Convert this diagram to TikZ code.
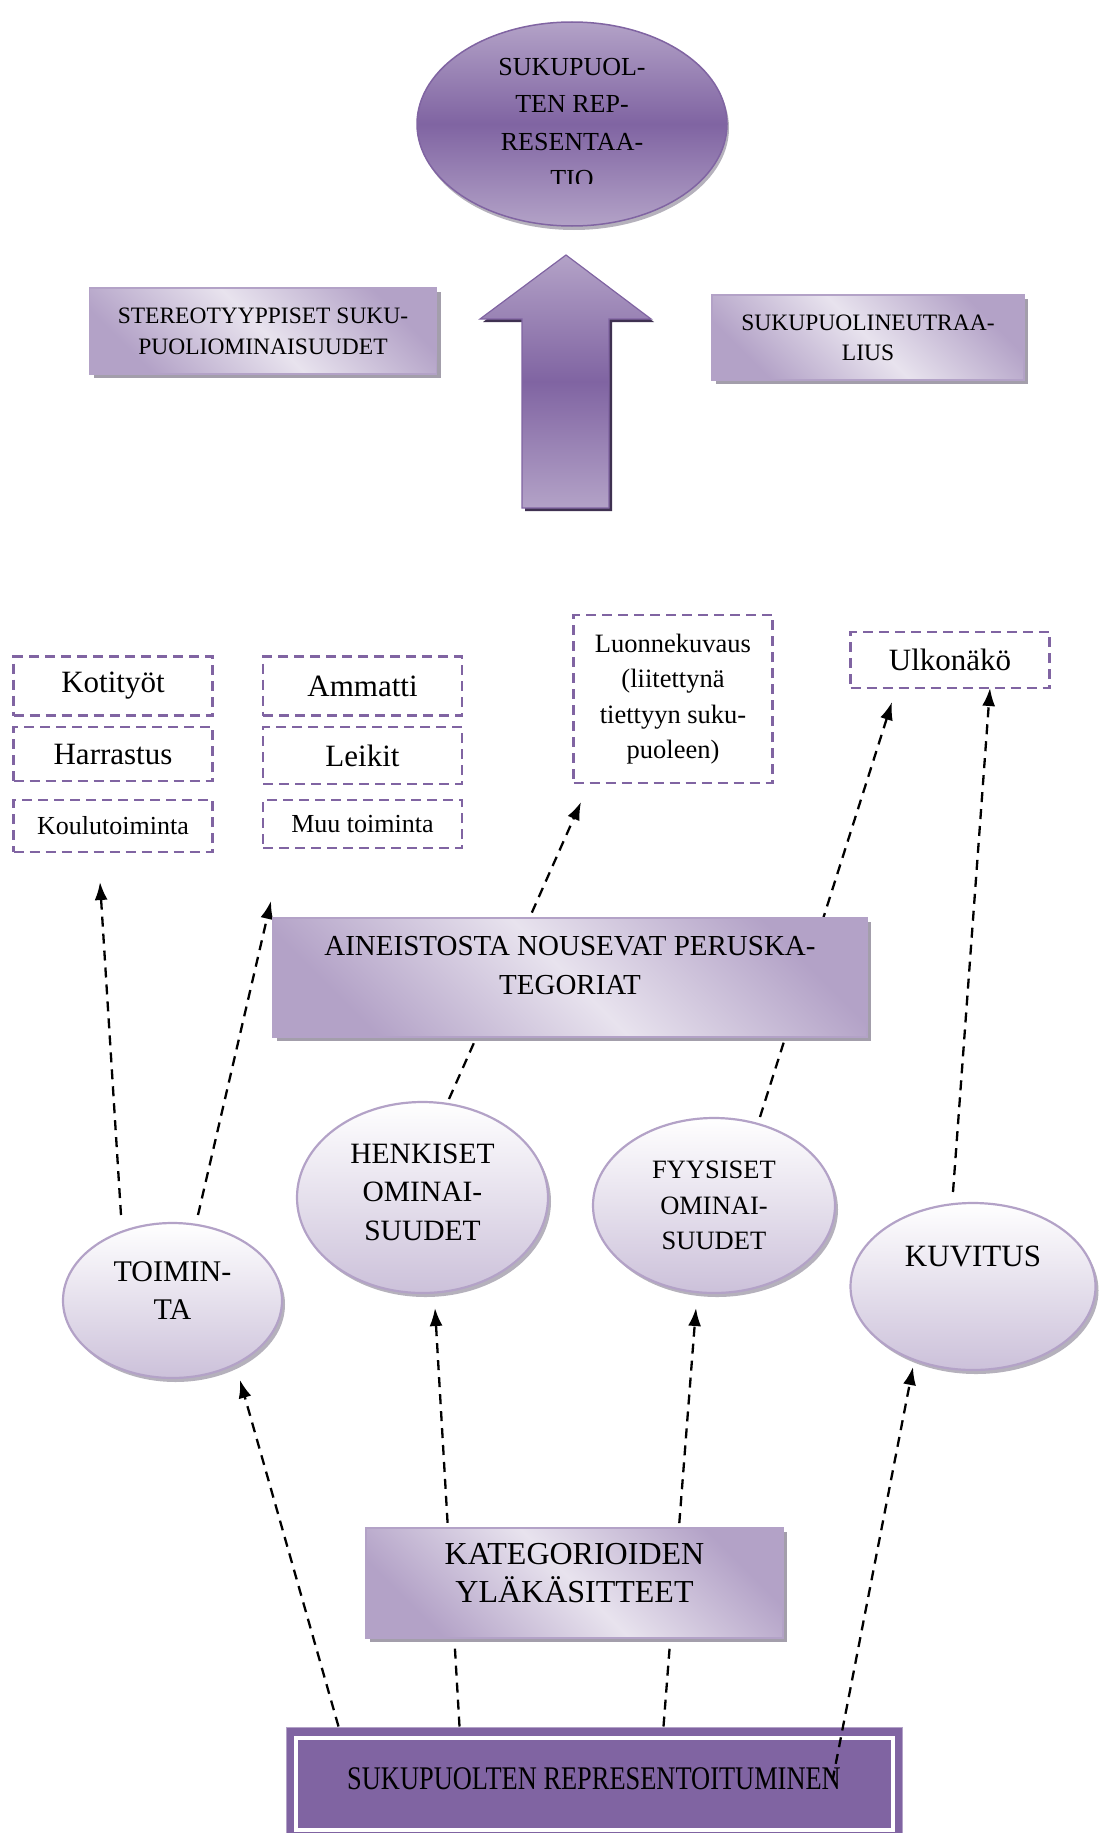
\documentclass[tikz,border=0pt]{standalone}
\usepackage{fontspec}
\setmainfont{Liberation Serif}
\newfontfamily\condfont[FakeStretch=0.8]{Liberation Serif}
\usetikzlibrary{shapes.geometric,arrows.meta,shadows,calc}
\definecolor{purp}{HTML}{8064A2}
\definecolor{lav}{HTML}{B3A2C7}
\definecolor{lilac}{HTML}{CCC1DA}
\definecolor{vlight}{HTML}{E8E3EE}
\definecolor{shgrey}{HTML}{A39EAB}
\definecolor{dkpurp}{HTML}{3F3151}
\pgfdeclarelayer{bg}
\pgfsetlayers{bg,main}
\newcommand\myfs[2]{\fontsize{#1}{#2}\selectfont}
\begin{document}
\begin{tikzpicture}[x=1pt,y=-1pt,
  lbox/.style={rectangle, draw=lav, line width=1.2pt, top color=lav, bottom color=lav, middle color=vlight, shading angle=-45,
     drop shadow={shadow xshift=4pt, shadow yshift=-4pt, fill=shgrey, opacity=1}, inner sep=0pt, align=center},
  dbox/.style={rectangle, draw=purp, line width=2.8pt, dash pattern=on 10pt off 6pt, minimum width=199pt, inner sep=0pt, align=center},
  lell/.style={ellipse, draw=lav, line width=2.2pt, top color=white, bottom color=lilac,
     drop shadow={shadow xshift=3pt, shadow yshift=-4pt, fill=shgrey, opacity=0.8}, inner sep=0pt, align=center},
  txt/.style={align=center, inner sep=0pt},
  darr/.style={draw=black, line width=2.3pt, dash pattern=on 10pt off 7pt, -{Latex[length=18pt,width=13pt]}}
]
\useasboundingbox (0,0) rectangle (1101,1833);

% top ellipse
\node[ellipse, draw=purp, line width=1.5pt, top color=lav, bottom color=lav, middle color=purp,
  minimum width=310pt, minimum height=204pt, inner sep=0pt,
  drop shadow={shadow xshift=2pt, shadow yshift=-4pt, fill=shgrey, opacity=0.8}] (top) at (572,124) {};
\begin{scope}
  \clip (380,0) rectangle (780,183);
  \node[txt, font=\myfs{26}{37.5}] (topT) at (572,123) {SUKUPUOL-\\TEN REP-\\RESENTAA-\\TIO};
\end{scope}

% big block arrow
\fill[dkpurp, shift={(3,3)}] (566,255) -- (651,319) -- (609,319) -- (609,508) -- (522,508) -- (522,319) -- (480,319) -- cycle;
\path[draw=purp, line width=1.2pt, top color=lav, bottom color=lav, middle color=purp]
  (566,255) -- (651,319) -- (609,319) -- (609,508) -- (522,508) -- (522,319) -- (480,319) -- cycle;

% side boxes
\node[lbox, minimum width=347pt, minimum height=86pt, font=\myfs{23.5}{31}] (stereo) at (263,331) {STEREOTYYPPISET SUKU-\\PUOLIOMINAISUUDET};
\node[lbox, minimum width=312pt, minimum height=85pt, font=\myfs{23.5}{30}] (neutr) at (868,337.5) {SUKUPUOLINEUTRAA-\\LIUS};

% dashed boxes
\node[dbox, minimum height=59pt, font=\myfs{31}{36}] (koti) at (113,686) {Kotityöt};
\node[dbox, minimum height=54pt, font=\myfs{31}{36}] (harr) at (113,754) {Harrastus};
\node[dbox, minimum height=52pt, font=\myfs{26}{30}] (koulu) at (113,826) {Koulutoiminta};
\node[dbox, minimum height=59pt, font=\myfs{31}{36}] (amm) at (362.5,686) {Ammatti};
\node[dbox, minimum height=57pt, font=\myfs{31}{36}] (leik) at (362.5,755.5) {Leikit};
\node[dbox, minimum height=48pt, font=\myfs{26}{30}] (muu) at (362.5,824) {Muu toiminta};
\node[dbox, minimum height=168pt, font=\myfs{26.5}{35.5}] (luonne) at (673,699) {Luonnekuvaus\\(liitettynä\\tiettyyn suku-\\puoleen)};
\node[dbox, minimum height=56pt, font=\myfs{31}{36}] (ulko) at (950,660) {Ulkonäkö};

% middle box
\node[lbox, minimum width=594pt, minimum height=119pt] (ain) at (570,977.5) {};
\node[txt, font=\myfs{29}{39}] (ainT) at (570,966) {AINEISTOSTA NOUSEVAT PERUSKA-\\TEGORIAT};

% ellipses
\node[lell, minimum width=219pt, minimum height=155pt] (toim) at (172.5,1300.5) {};
\node[txt, font=\myfs{30}{38}] (toimT) at (172.5,1291) {TOIMIN-\\TA};
\node[lell, minimum width=251pt, minimum height=191pt] (henk) at (422.5,1197.5) {};
\node[txt, font=\myfs{29.5}{38.5}] (henkT) at (422.5,1192) {HENKISET\\OMINAI-\\SUUDET};
\node[lell, minimum width=242pt, minimum height=175pt, font=\myfs{26.5}{35.5}] (fyys) at (714,1205.5) {FYYSISET\\OMINAI-\\SUUDET};
\node[lell, minimum width=245pt, minimum height=167pt] (kuv) at (973,1286.5) {};
\node[txt, font=\myfs{31}{36}] (kuvT) at (973,1256) {KUVITUS};

% lower box
\node[lbox, minimum width=417pt, minimum height=110pt] (kat) at (574.5,1583) {};
\node[txt, font=\myfs{32}{38}] (katT) at (574.5,1573.5) {KATEGORIOIDEN\\YLÄKÄSITTEET};

% bottom box
\node[rectangle, fill=purp, draw=lav, line width=1pt, minimum width=616pt, minimum height=113pt, inner sep=0pt] (rep) at (594,1783.5) {};
\draw[white, line width=4pt] ([xshift=10pt,yshift=-11pt]rep.north west) rectangle ([xshift=-10pt,yshift=11pt]rep.south east);
\node[txt, font=\condfont\myfs{33}{40}] (repT) at (594,1779) {SUKUPUOLTEN REPRESENTOITUMINEN};

% arrow tips
\coordinate (t1) at (100,882);
\coordinate (t2) at (271,901);
\coordinate (t3) at (581,802);
\coordinate (t4) at (892,702);
\coordinate (t5) at (990,688);
\coordinate (t6) at (240,1380);
\coordinate (t7) at (435,1308);
\coordinate (t8) at (696,1308);
\coordinate (t9) at (913,1367);

\begin{pgfonlayer}{bg}
\draw[darr] ($(toim.center)+(-51.5,-85.5)$) -- (t1);
\draw[darr] ($(toim.center)+(25.5,-85.5)$) -- (t2);
\draw[darr] ($(henk.center)+(26.5,-98.5)$) -- (t3);
\draw[darr] ($(fyys.center)+(46,-88.5)$) -- (t4);
\draw[darr] ($(kuv.center)+(-20,-94.5)$) -- (t5);
\draw[darr] ($(rep.north west)+(53,0)$) -- (t6);
\draw[darr] ($(rep.north west)+(174,0)$) -- (t7);
\draw[darr] ($(rep.north west)+(378,0)$) -- (t8);
\end{pgfonlayer}
\draw[darr] ($(rep.north west)+(547,54)$) -- (t9);
\end{tikzpicture}
\end{document}
